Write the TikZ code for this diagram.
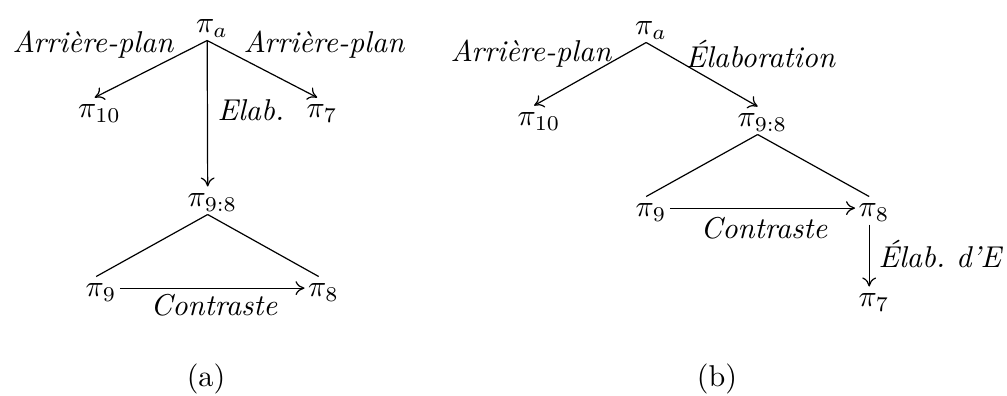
\documentclass[tikz,border=0pt]{standalone}
\usetikzlibrary{arrows.meta}
\begin{document}
\begin{tikzpicture}[x=0.332pt,y=-0.332pt,
  pn/.style={inner xsep=1pt,inner ysep=2.3pt,text height=4.3pt,text depth=0pt,anchor=base},
  lbl/.style={font=\itshape,inner sep=0pt,anchor=base west},
  subcap/.style={inner sep=0pt,anchor=base},
  arr/.style={-{To[length=3pt,width=4.6pt]}},
  ln/.style={-}]
\useasboundingbox (0,0) rectangle (1007,396);
% ---------- (a) ----------
\node[pn] (apa) at (212,33) {$\pi_a$};
\node[pn] (ap10) at (99.5,118) {$\pi_{10}$};
\node[pn] (ap7) at (322,118) {$\pi_7$};
\node[pn] (ap98) at (212.5,207) {$\pi_{9:8}$};
\node[pn] (ap9) at (101,297) {$\pi_9$};
\node[pn] (ap8) at (323.5,297) {$\pi_8$};
\node[lbl] (alA) at (12,53) {Arrière-plan};
\node[lbl] (alB) at (243,53) {Arrière-plan};
\node[lbl] (alE) at (217,121) {Elab.};
\node[subcap,font=\itshape] (alC) at (214,316) {Contraste};
\node[subcap] (acap) at (206,387) {(a)};
\draw[arr] ([xshift=-1.6pt]apa.south) -- ([xshift=-1.6pt]ap10.north);
\draw[arr] ([xshift=-1.6pt]apa.south) -- ([xshift=-1.6pt]ap7.north);
\draw[arr] ([xshift=-1.6pt]apa.south) -- ([xshift=-1.6pt]ap98.north);
\draw[ln] ([xshift=-1.6pt]ap98.south) -- ([xshift=-1.6pt]ap9.north);
\draw[ln] ([xshift=-1.6pt]ap98.south) -- ([xshift=-1.6pt]ap8.north);
\draw[arr] ([yshift=0.8pt]ap9.east) -- ([yshift=0.8pt]ap8.west);
% ---------- (b) ----------
\node[pn] (bpa) at (651,35) {$\pi_a$};
\node[pn] (bp10) at (539,126) {$\pi_{10}$};
\node[pn] (bp98) at (762.5,127) {$\pi_{9:8}$};
\node[pn] (bp9) at (651,217) {$\pi_9$};
\node[pn] (bp8) at (874,217) {$\pi_8$};
\node[pn] (bp7) at (874,307) {$\pi_7$};
\node[lbl] (blA) at (450,62) {Arrière-plan};
\node[lbl] (blE) at (685,68) {Élaboration};
\node[subcap,font=\itshape] (blC) at (764,239) {Contraste};
\node[lbl] (blD) at (878,268) {Élab.\ d'E};
\node[subcap] (bcap) at (717,387) {(b)};
\draw[arr] ([xshift=-1.6pt]bpa.south) -- ([xshift=-1.6pt]bp10.north);
\draw[arr] ([xshift=-1.6pt]bpa.south) -- ([xshift=-1.6pt]bp98.north);
\draw[ln] ([xshift=-1.6pt]bp98.south) -- ([xshift=-1.6pt]bp9.north);
\draw[ln] ([xshift=-1.6pt]bp98.south) -- ([xshift=-1.6pt]bp8.north);
\draw[arr] ([yshift=0.8pt]bp9.east) -- ([yshift=0.8pt]bp8.west);
\draw[arr] ([xshift=-1.6pt]bp8.south) -- ([xshift=-1.6pt]bp7.north);
\end{tikzpicture}
\end{document}
